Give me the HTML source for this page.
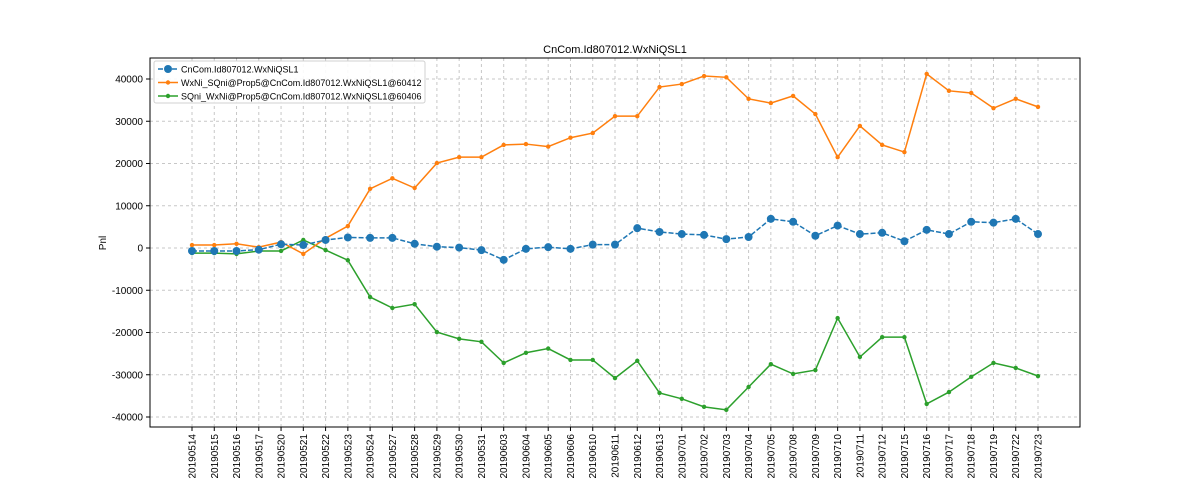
<!DOCTYPE html>
<html><head><meta charset="utf-8"><style>
body{margin:0;background:#fff;}
svg{display:block;font-family:"Liberation Sans","DejaVu Sans",sans-serif;}
</style></head><body>
<svg id="chart" width="1200" height="480" xmlns="http://www.w3.org/2000/svg"></svg>
<script>
const dates=["20190514","20190515","20190516","20190517","20190520","20190521","20190522","20190523","20190524","20190527","20190528","20190529","20190530","20190531","20190603","20190604","20190605","20190606","20190610","20190611","20190612","20190613","20190701","20190702","20190703","20190704","20190705","20190708","20190709","20190710","20190711","20190712","20190715","20190716","20190717","20190718","20190719","20190722","20190723"];
const blueVals=[-700,-700,-700,-400,900,700,1900,2500,2400,2400,1000,300,100,-500,-2800,-200,200,-200,800,800,4700,3800,3300,3100,2100,2600,6900,6200,2900,5300,3300,3600,1600,4300,3300,6200,6000,6900,3300];
const orangeVals=[700,700,1000,200,1400,-1400,2300,5200,14000,16500,14200,20100,21500,21500,24400,24600,24000,26100,27200,31200,31200,38100,38800,40700,40400,35300,34300,36000,31700,21500,28900,24400,22700,41200,37200,36700,33100,35300,33400];
const greenVals=[-1200,-1200,-1400,-700,-700,1900,-500,-2900,-11600,-14200,-13300,-19900,-21500,-22200,-27200,-24800,-23800,-26500,-26500,-30800,-26700,-34300,-35700,-37600,-38300,-32900,-27500,-29800,-28900,-16600,-25800,-21100,-21100,-36900,-34100,-30500,-27200,-28400,-30300];
const yTicks=[-40000,-30000,-20000,-10000,0,10000,20000,30000,40000];
const seriesNames=["CnCom.Id807012.WxNiQSL1","WxNi_SQni@Prop5@CnCom.Id807012.WxNiQSL1@60412","SQni_WxNi@Prop5@CnCom.Id807012.WxNiQSL1@60406"];

const L=150,R=1080,T=58,B=427;
const x0=192,x1=1038;
function xs(i){return x0+i*(x1-x0)/(dates.length-1);}
function ys(v){return 248-v*0.004225;}
const svg=document.getElementById('chart');
const NS="http://www.w3.org/2000/svg";
function el(tag,attrs,parent){const e=document.createElementNS(NS,tag);for(const k in attrs)e.setAttribute(k,attrs[k]);(parent||svg).appendChild(e);return e;}

const grid=el('g',{});


dates.forEach((d,i)=>{
  const x=xs(i);
  el('line',{x1:x,x2:x,y1:T,y2:B,stroke:'#b0b0b0','stroke-width':1,'stroke-dasharray':'3,3',opacity:0.7},grid);
  el('line',{x1:x,x2:x,y1:B,y2:B+4,stroke:'#000'},grid);
  const t=el('text',{x:0,y:0,'font-size':10,'text-anchor':'end',transform:`translate(${x+3.5},${B+7}) rotate(-90)`});
  t.textContent=d;
  
  
});
yTicks.forEach(v=>{
  const y=ys(v);
  el('line',{x1:L,x2:R,y1:y,y2:y,stroke:'#b0b0b0','stroke-width':1,'stroke-dasharray':'3,3',opacity:0.7},grid);
  el('line',{x1:L-4,x2:L,y1:y,y2:y,stroke:'#000'},grid);
  const t=el('text',{x:L-7,y:y+3.5,'font-size':10,'text-anchor':'end'});
  t.textContent=v;
  
  
});
const frame=el('rect',{x:L,y:T,width:R-L,height:B-T,fill:'none',stroke:'#000','stroke-width':1});



function drawSeries(vals,color,dash,r,name){
  const g=el('g',{});
  
  
  const pts=vals.map((v,i)=>xs(i)+','+ys(v)).join(' ');
  const pl=el('polyline',{points:pts,fill:'none',stroke:color,'stroke-width':1.5},g);
  if(dash)pl.setAttribute('stroke-dasharray',dash);
  vals.forEach((v,i)=>{
    const c=el('circle',{cx:xs(i),cy:ys(v),r:r,fill:color},g);
    
    
  });
}
drawSeries(greenVals,'#2ca02c',null,2.2,'series-sqni-wxni');
drawSeries(orangeVals,'#ff7f0e',null,2.2,'series-wxni-sqni');
drawSeries(blueVals,'#1f77b4','5,2',4,'series-cncom');

const title=el('text',{x:615,y:53,'font-size':11,'text-anchor':'middle'});
title.textContent="CnCom.Id807012.WxNiQSL1";


const yl=el('text',{x:0,y:0,'font-size':10,'text-anchor':'middle',transform:'translate(106,243) rotate(-90)'});
yl.textContent="Pnl";



const lg=el('g',{});


el('rect',{x:154,y:61,width:271,height:42,fill:'#fff',stroke:'#ccc',rx:2,opacity:0.9},lg);
const lcolors=['#1f77b4','#ff7f0e','#2ca02c'];
seriesNames.forEach((n,i)=>{
  const y=69+i*13.5;
  const ln=el('line',{x1:158,x2:178,y1:y,y2:y,stroke:lcolors[i],'stroke-width':1.5},lg);
  if(i===0)ln.setAttribute('stroke-dasharray','5,2');
  el('circle',{cx:168,cy:y,r:i===0?4:2.2,fill:lcolors[i]},lg);
  const t=el('text',{x:181,y:y+3.5,'font-size':9},lg);
  t.textContent=n;
  
  
});
</script>
</body></html>
